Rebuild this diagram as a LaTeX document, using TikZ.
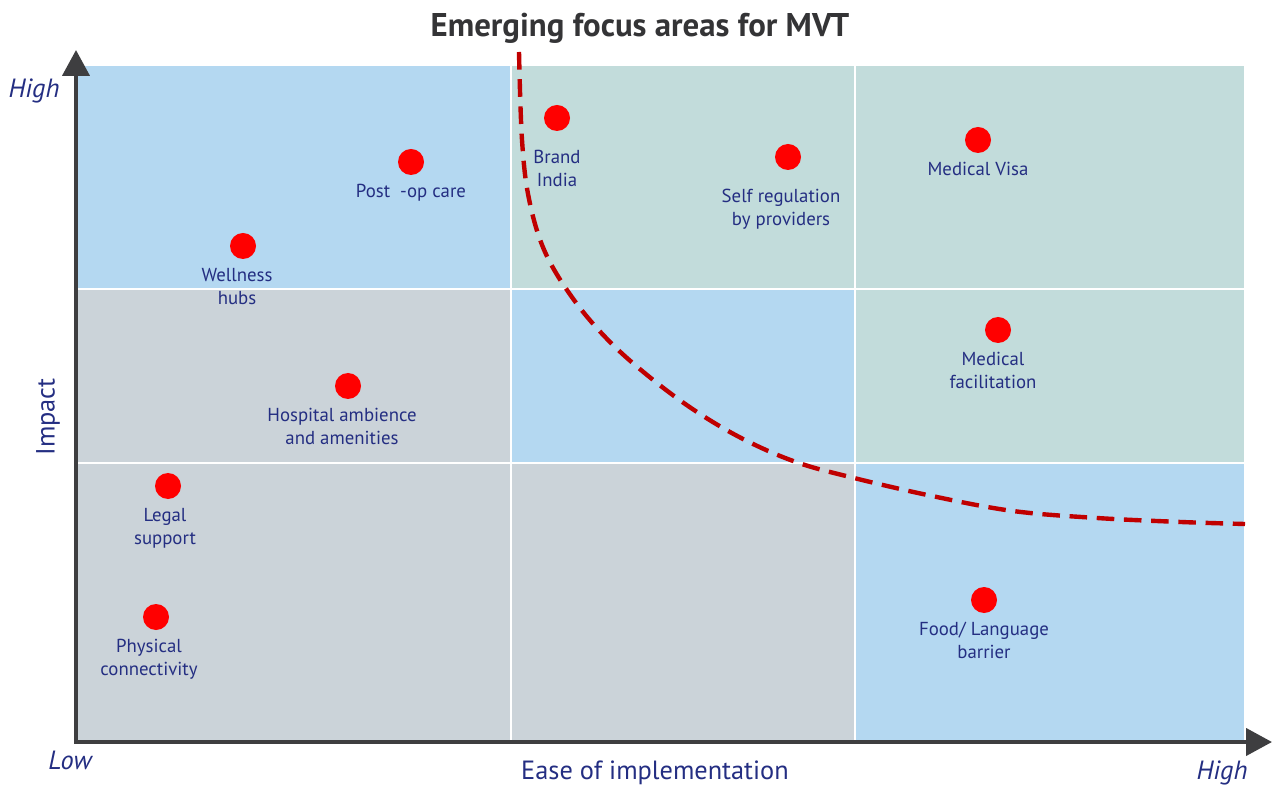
\documentclass[tikz,border=0pt]{standalone}
\usepackage{fontspec}
\setmainfont{PT Sans}
\usetikzlibrary{arrows.meta}
\usetikzlibrary{positioning}
\colorlet{cellblue}{rgb,255:red,180;green,216;blue,241}
\colorlet{cellgreen}{rgb,255:red,194;green,220;blue,219}
\colorlet{cellgray}{rgb,255:red,203;green,211;blue,217}
\colorlet{txtnavy}{rgb,255:red,36;green,46;blue,130}
\colorlet{axisgray}{rgb,255:red,62;green,62;blue,64}
\colorlet{curvered}{rgb,255:red,192;green,0;blue,0}
\colorlet{titlegray}{rgb,255:red,52;green,52;blue,54}
\tikzset{cell/.style={draw=white,line width=1.1pt},
  dot/.style={circle,fill=red,minimum size=14.8pt,inner sep=0pt},
  lbl/.style={align=center,inner sep=0pt,text=txtnavy,
    font=\fontsize{10.7}{13}\selectfont},
  axlbl/.style={text=txtnavy,font=\fontsize{15}{18}\selectfont},
  ends/.style={text=txtnavy,font=\itshape\fontsize{15}{18}\selectfont}}

\begin{document}
\begin{tikzpicture}[x=0.02cm,y=-0.02cm,node distance=0.17cm]
    \useasboundingbox (0,0) rectangle (1273,786);
    % cells, top row first
    \fill[cellblue,cell] (77,65) rectangle (511,289);
    \fill[cellgreen,cell] (511,65) rectangle (855,289);
    \fill[cellgreen,cell] (855,65) rectangle (1245,289);
    \fill[cellgray,cell] (77,289) rectangle (511,463);
    \fill[cellblue,cell] (511,289) rectangle (855,463);
    \fill[cellgreen,cell] (855,289) rectangle (1245,463);
    \fill[cellgray,cell] (77,463) rectangle (511,742);
    \fill[cellgray,cell] (511,463) rectangle (855,742);
    \fill[cellblue,cell] (855,463) rectangle (1245,742);
    % axes
    \coordinate (O) at (76,742);
    \coordinate (ytip) at (76,50);
    \coordinate (xtip) at (1272,742);
    \draw[axisgray,line width=2.3pt,
      {Triangle[width=15.3pt,length=14.7pt]}-{Triangle[width=15.3pt,length=14.7pt]}]
      (ytip) -- (O) -- (xtip);
    \node[ends] (yhigh) at (34,91) {High};
    \node[ends] (xlow) at (70,760) {Low};
    \node[ends] (xhigh) at (1222,773) {High};
    \node[axlbl] (xlab) at (655,773) {Ease of implementation};
    \node[axlbl,rotate=90] (ylab) at (48,417) {Impact};
    \node[font=\bfseries\fontsize{18.7}{22}\selectfont,text=titlegray] (title)
      at (640,28) {Emerging focus areas for MVT};
    % boundary
    \draw[curvered,line width=2.5pt,dash pattern=on 10pt off 5.5pt]
      plot[smooth,tension=0.6] coordinates {(519,52) (522,140) (529,199)
      (545,252) (574,300) (610,342) (652,379) (697,412) (745,440) (796,462)
      (850,477) (932,496) (1013,511) (1097,518) (1181,522) (1245,524)};
    % focus areas
    \node[dot] (brand) at (557,118) {};
    \node[lbl,below=0.37cm of brand] (brandl) {Brand\\India};
    \node[dot] (postop) at (411,162) {};
    \node[lbl,below=of postop] (postopl) {Post \ -op care};
    \node[dot] (well) at (243,246) {};
    \node[lbl,below=of well,xshift=-0.12cm] (welll) {Wellness\\hubs};
    \node[dot] (selfreg) at (788,157) {};
    \node[lbl,below=0.37cm of selfreg,xshift=-0.14cm] (selfregl) {Self regulation\\by providers};
    \node[dot] (visa) at (978,140) {};
    \node[lbl,below=of visa] (visal) {Medical Visa};
    \node[dot] (facil) at (998,330) {};
    \node[lbl,below=of facil,xshift=-0.1cm] (facill) {Medical\\facilitation};
    \node[dot] (hosp) at (348,386) {};
    \node[lbl,below=of hosp,xshift=-0.12cm] (hospl) {Hospital ambience\\and amenities};
    \node[dot] (legal) at (168,486) {};
    \node[lbl,below=of legal,xshift=-0.06cm] (legall) {Legal\\support};
    \node[dot] (phys) at (156,617) {};
    \node[lbl,below=of phys,xshift=-0.14cm] (physl) {Physical\\connectivity};
    \node[dot] (food) at (984,600) {};
    \node[lbl,below=of food] (foodl) {Food/ Language\\barrier};
  \end{tikzpicture}
\end{document}
